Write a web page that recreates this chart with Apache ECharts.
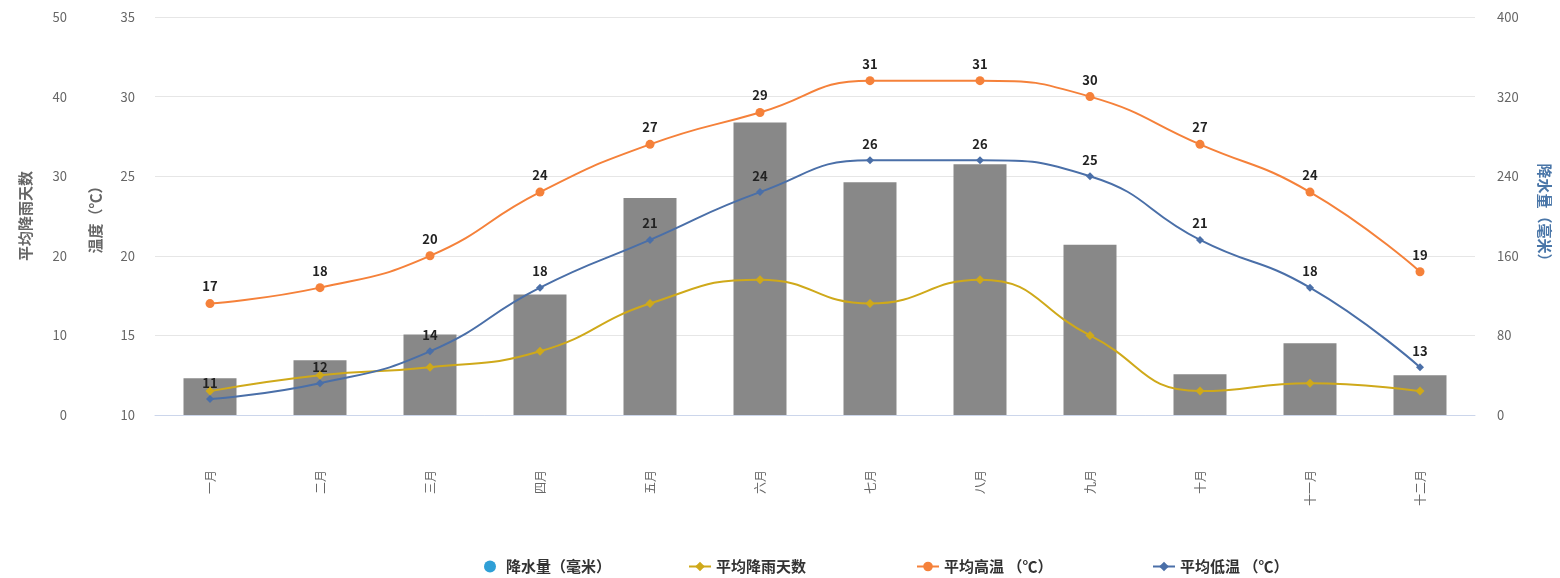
<!DOCTYPE html>
<html><head><meta charset="utf-8">
<script src="https://cdn.jsdelivr.net/npm/echarts@6/dist/echarts.min.js"></script>
<style>html,body{margin:0;padding:0;background:#fff}#c{width:1560px;height:578px}</style>
</head><body><div id="c"></div>
<script>
var months = ['一月','二月','三月','四月','五月','六月','七月','八月','九月','十月','十一月','十二月'];
var precip = [37, 55, 81, 121, 218, 294, 234, 252, 171, 41, 72, 40];
var rainDays = [3, 5, 6, 8, 14, 17, 14, 17, 10, 3, 4, 3];
var highTemp = [17, 18, 20, 24, 27, 29, 31, 31, 30, 27, 24, 19];
var lowTemp = [11, 12, 14, 18, 21, 24, 26, 26, 25, 21, 18, 13];
var names = ['降水量（毫米）', '平均降雨天数', '平均高温 （℃）', '平均低温 （℃）'];
var legendLeft = [484, 688, 916, 1152];

var font = '"Noto Sans CJK SC", "Noto Sans", sans-serif';
var chart = echarts.init(document.getElementById('c'), null, {renderer: 'canvas'});
var lbl = {show: true, position: 'top', distance: 6, color: '#222', fontWeight: 'bold', fontSize: 13, fontFamily: font};
var legends = names.map(function (n, i) {
  var d = i === 0 ? {name: n, icon: 'circle', itemStyle: {color: '#2f9fd6'}} : {name: n};
  return {
    bottom: 4, left: legendLeft[i], itemWidth: 22, itemHeight: 12, padding: 0,
    textStyle: {color: '#333', fontSize: 15, fontWeight: 'bold', fontFamily: font},
    data: [d]
  };
});
var nameStyle = {color: '#666', fontSize: 15, fontWeight: 'bold', fontFamily: font};
chart.setOption({
  animation: false,
  textStyle: {fontFamily: font},
  grid: {left: 155, right: 85, top: 17, bottom: 163},
  legend: legends,
  xAxis: {
    type: 'category', data: months,
    axisLine: {lineStyle: {color: '#ccd6eb', width: 1}},
    axisTick: {show: false},
    axisLabel: {rotate: 90, margin: 55, color: '#666', fontSize: 12, fontFamily: font}
  },
  yAxis: [
    {
      type: 'value', position: 'left', min: 10, max: 35, interval: 5,
      name: '温度（℃）', nameLocation: 'middle', nameGap: 52,
      nameTextStyle: nameStyle,
      axisLabel: {color: '#666', fontSize: 13, margin: 20},
      axisLine: {show: false}, axisTick: {show: false},
      splitLine: {lineStyle: {color: '#e6e6e6', width: 1}}
    },
    {
      type: 'value', position: 'left', offset: 68, min: 0, max: 50, interval: 10,
      name: '平均降雨天数', nameLocation: 'middle', nameGap: 54,
      nameTextStyle: nameStyle,
      axisLabel: {color: '#666', fontSize: 13, margin: 20},
      axisLine: {show: false}, axisTick: {show: false}, splitLine: {show: false}
    },
    {
      type: 'value', position: 'right', min: 0, max: 400, interval: 80,
      name: '降水量（毫米）', nameLocation: 'middle', nameGap: 62, nameRotate: -90,
      nameTextStyle: {color: '#4a76a8', fontSize: 15, fontWeight: 'bold', fontFamily: font},
      axisLabel: {color: '#666', fontSize: 13, margin: 22},
      axisLine: {show: false}, axisTick: {show: false}, splitLine: {show: false}
    }
  ],
  series: [
    {
      name: names[0], type: 'bar', yAxisIndex: 2, data: precip, barWidth: 53,
      itemStyle: {color: '#888888'}, z: 1
    },
    {
      name: names[1], type: 'line', yAxisIndex: 1, data: rainDays, smooth: true,
      symbol: 'diamond', symbolSize: 9, color: '#cfa91a',
      lineStyle: {width: 2, color: '#cfa91a'}, itemStyle: {color: '#cfa91a'}, z: 3
    },
    {
      name: names[2], type: 'line', yAxisIndex: 0, data: highTemp, smooth: true,
      symbol: 'circle', symbolSize: 9, color: '#f5813a',
      lineStyle: {width: 2, color: '#f5813a'}, itemStyle: {color: '#f5813a'},
      label: lbl, z: 4
    },
    {
      name: names[3], type: 'line', yAxisIndex: 0, data: lowTemp, smooth: true,
      symbol: 'diamond', symbolSize: 8, color: '#4a6fa8',
      lineStyle: {width: 2, color: '#4a6fa8'}, itemStyle: {color: '#4a6fa8'},
      label: lbl, z: 4
    }
  ]
});
</script></body></html>
